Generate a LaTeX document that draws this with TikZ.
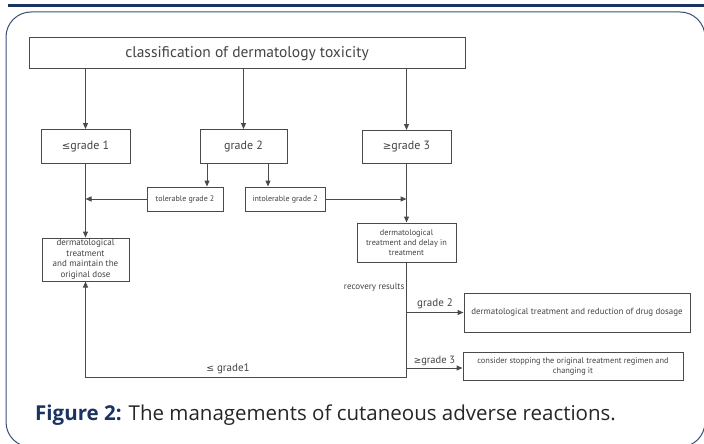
\documentclass[tikz,border=0pt]{standalone}
\usepackage{fontspec}
\setmainfont{PT Sans}
\newfontfamily\capf{Open Sans}
\newfontfamily\symf{DejaVu Sans}
\usetikzlibrary{arrows.meta}
\definecolor{navy}{HTML}{1B3360}
\definecolor{framec}{HTML}{3A4F75}
\definecolor{linec}{HTML}{4A4A4A}
\definecolor{txtc}{HTML}{444444}
\newcommand{\mylq}{{\symf\fontsize{0.85em}{1em}\selectfont ≤}}
\newcommand{\mygq}{{\symf\fontsize{0.85em}{1em}\selectfont ≥}}
\begin{document}
\begin{tikzpicture}[x=1pt,y=-1pt,
  box/.style={draw=linec, line width=1pt, text=txtc, align=center, inner sep=0pt},
  conn/.style={draw=linec, line width=1pt},
  arr/.style={conn, -{Triangle[length=6pt,width=5pt]}},
  lbl/.style={text=txtc, inner sep=0pt}
]
\clip (0,0) rectangle (704,444);
\useasboundingbox (0,0) rectangle (704,444);
\fill[white] (0,0) rectangle (704,444);
% top bar and frame
\fill[navy] (8,4) rectangle (704,7);
\draw[framec, line width=1pt, rounded corners=25pt] (6,12) rectangle (705,447);

% nodes
\node[box, minimum width=436, minimum height=31, font=\fontsize{15.5}{17}\selectfont] (title) at (247,53.5) {classification of dermatology toxicity};
\node[box, minimum width=89, minimum height=34, font=\fontsize{12}{14}\selectfont] (le1) at (85.5,146.5) {\mylq grade 1};
\node[box, minimum width=87, minimum height=34, font=\fontsize{12}{14}\selectfont] (g2) at (243.5,146.5) {grade 2};
\node[box, minimum width=89, minimum height=33, font=\fontsize{12}{14}\selectfont] (ge3) at (406.5,147) {\mygq grade 3};
\node[box, minimum width=76, minimum height=24, font=\fontsize{8}{10}\selectfont] (tol) at (185,199) {tolerable grade 2};
\node[box, minimum width=80, minimum height=24, font=\fontsize{8}{10}\selectfont] (intol) at (285,199) {intolerable grade 2};
\node[box, minimum width=87, minimum height=43, font=\fontsize{9}{10.5}\selectfont] (derm1) at (85.5,259.5) {dermatological\\treatment\\and maintain the\\original dose};
\node[box, minimum width=99, minimum height=39, font=\fontsize{8.3}{10}\selectfont] (derm3) at (406.5,242.5) {dermatological\\treatment and delay in\\treatment};
\node[box, minimum width=226, minimum height=39, font=\fontsize{8.9}{10}\selectfont] (res2) at (577,312.5) {dermatological treatment and reduction of drug dosage};
\node[box, minimum width=220, minimum height=28, font=\fontsize{8.35}{10}\selectfont] (res3) at (573,366) {consider stopping the original treatment regimen and\\changing it};

% connectors
\draw[arr] (le1 |- title.south) -- (le1.north);
\draw[arr] (g2 |- title.south) -- (g2.north);
\draw[arr] (ge3 |- title.south) -- (ge3.north);
\draw[arr] (le1.south) -- (derm1.north);
\draw[arr] ([xshift=22pt]tol.north |- g2.south) -- ([xshift=22pt]tol.north);
\draw[arr] ([xshift=-17pt]intol.north |- g2.south) -- ([xshift=-17pt]intol.north);
\draw[arr] (tol.west) -- (tol.west -| le1.south);
\draw[arr] (intol.east) -- (intol.east -| ge3.south);
\draw[arr] (ge3.south) -- (derm3.north);
\coordinate (loop) at (406.5,377);
\draw[arr] (derm3.south) -- (loop) -| (derm1.south);
\node[lbl, font=\fontsize{11}{13}\selectfont, anchor=south] (lg1) at (228,374) {\mylq\ grade1};
\coordinate (b2) at (derm3.south |- res2.west);
\coordinate (b3) at ([yshift=-2pt]derm3.south |- res3.west);
\draw[arr] (b2) -- (b2 -| res2.west)
  node[midway, above=3pt, lbl, font=\fontsize{11}{13}\selectfont] (lg2) {grade 2};
\draw[arr] (b3) -- (b3 -| res3.west)
  node[midway, above=1.5pt, lbl, font=\fontsize{10.5}{12}\selectfont] (lg3) {\mygq grade 3};
\node[lbl, anchor=east, font=\fontsize{9}{11}\selectfont] (rr) at (404.5,287) {recovery results};

% caption
\node[anchor=base west, inner sep=0pt, text=black!85] (cap) at (35,420)
  {\capf\fontsize{20.5}{24}\selectfont\textcolor{navy}{\bfseries Figure 2:} The managements of cutaneous adverse reactions.};
\end{tikzpicture}
\end{document}
